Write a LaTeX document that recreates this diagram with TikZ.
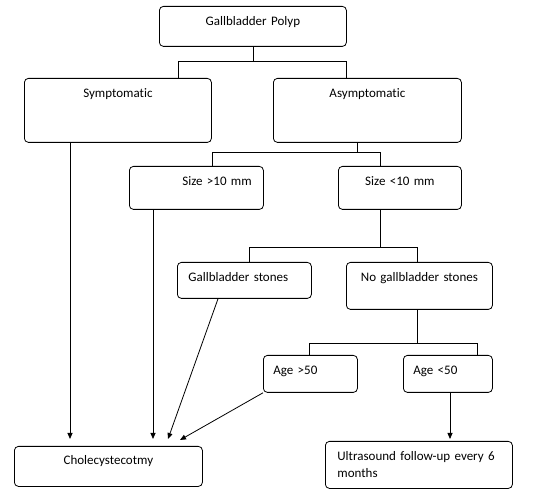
\documentclass[tikz,border=0pt]{standalone}
\usepackage{fontspec}
\setmainfont{Carlito}[Ligatures=NoCommon]
\usetikzlibrary{arrows.meta}

\begin{document}
\begin{tikzpicture}[x=1pt,y=-1pt,line width=0.8pt,
  fcbox/.style={draw,rounded corners=4pt,anchor=north west,inner xsep=0pt,inner ysep=10pt,
    text height=9.5pt,align=center,font=\fontsize{13}{17}\selectfont},
  lbox/.style={fcbox,align=left,inner xsep=11pt},
  arr/.style={-{Triangle[length=6pt,width=5pt]}}]

 \useasboundingbox (0,0) rectangle (541,502);

 % boxes, top to bottom
 \node[fcbox,text width=187pt,text depth=10.5pt] (gp) at (159,6) {Gallbladder Polyp};
 \node[fcbox,text width=187pt,text depth=34.5pt] (sym) at (24,78) {Symptomatic};
 \node[fcbox,text width=188pt,text depth=34.5pt] (asym) at (273,78) {Asymptomatic};
 \node[lbox,text width=112pt,text depth=13.5pt] (big) at (129,166) {\hspace*{42pt}Size >10 mm};
 \node[fcbox,text width=123pt,text depth=13.5pt] (small) at (338,166) {Size <10 mm};
 \node[lbox,text width=112pt,text depth=6.5pt] (stones) at (177,262) {Gallbladder stones};
 \node[fcbox,text width=146pt,text depth=17.5pt] (nostones) at (346,262) {No gallbladder stones};
 \node[lbox,inner xsep=10pt,text width=74pt,text depth=7.5pt] (old) at (263,355) {Age >50};
 \node[lbox,inner xsep=10pt,text width=69pt,text depth=7.5pt] (young) at (403,355) {Age <50};
 \node[fcbox,text width=188pt,text depth=12.5pt,inner ysep=9pt] (chole) at (14,446) {Cholecystecotmy};
 \node[lbox,inner xsep=12pt,text width=163pt,text depth=17.5pt] (us) at (325,441) {Ultrasound follow-up every 6\\months};

 % branch points
 \coordinate (gpL) at (178,61);
 \coordinate (gpR) at (346,61);
 \coordinate (asM) at (357,152);
 \coordinate (asL) at (212,152);
 \coordinate (asR) at (380,152);
 \coordinate (smL) at (249,247);
 \coordinate (smR) at (417,247);
 \coordinate (nsL) at (309,343);
 \coordinate (nsR) at (477,343);
 \coordinate (symX) at (70,0);
 \coordinate (bigX) at (153,0);
 \coordinate (youX) at (450,0);
 \coordinate (tipA) at (168,439);
 \coordinate (tipB) at (180,440);

 % tree lines
 \draw (gp.south) -- (gp.south |- gpL);
 \draw (gpL |- sym.north) -- (gpL) -- (gpR) -- (gpR |- asym.north);
 \draw (asM |- asym.south) -- (asM);
 \draw (asL |- big.north) -- (asL) -- (asR) -- (asR |- small.north);
 \draw (asR |- small.south) -- (asR |- smL);
 \draw (smL |- stones.north) -- (smL) -- (smR) -- (smR |- nostones.north);
 \draw (smR |- nostones.south) -- (smR |- nsL);
 \draw (nsL |- old.north) -- (nsL) -- (nsR) -- (nsR |- young.north);

 % arrows to the outcomes
 \draw[arr,shorten >=7pt] (symX |- sym.south) -- (symX |- chole.north);
 \draw[arr,shorten >=7pt] (bigX |- big.south) -- (bigX |- chole.north);
 \draw[arr] (stones.south west) ++(41,0) -- (tipA);
 \draw[arr] (old.south west) -- (tipB);
 \draw[arr,shorten >=2pt] (youX |- young.south) -- (youX |- us.north);

\end{tikzpicture}
\end{document}
